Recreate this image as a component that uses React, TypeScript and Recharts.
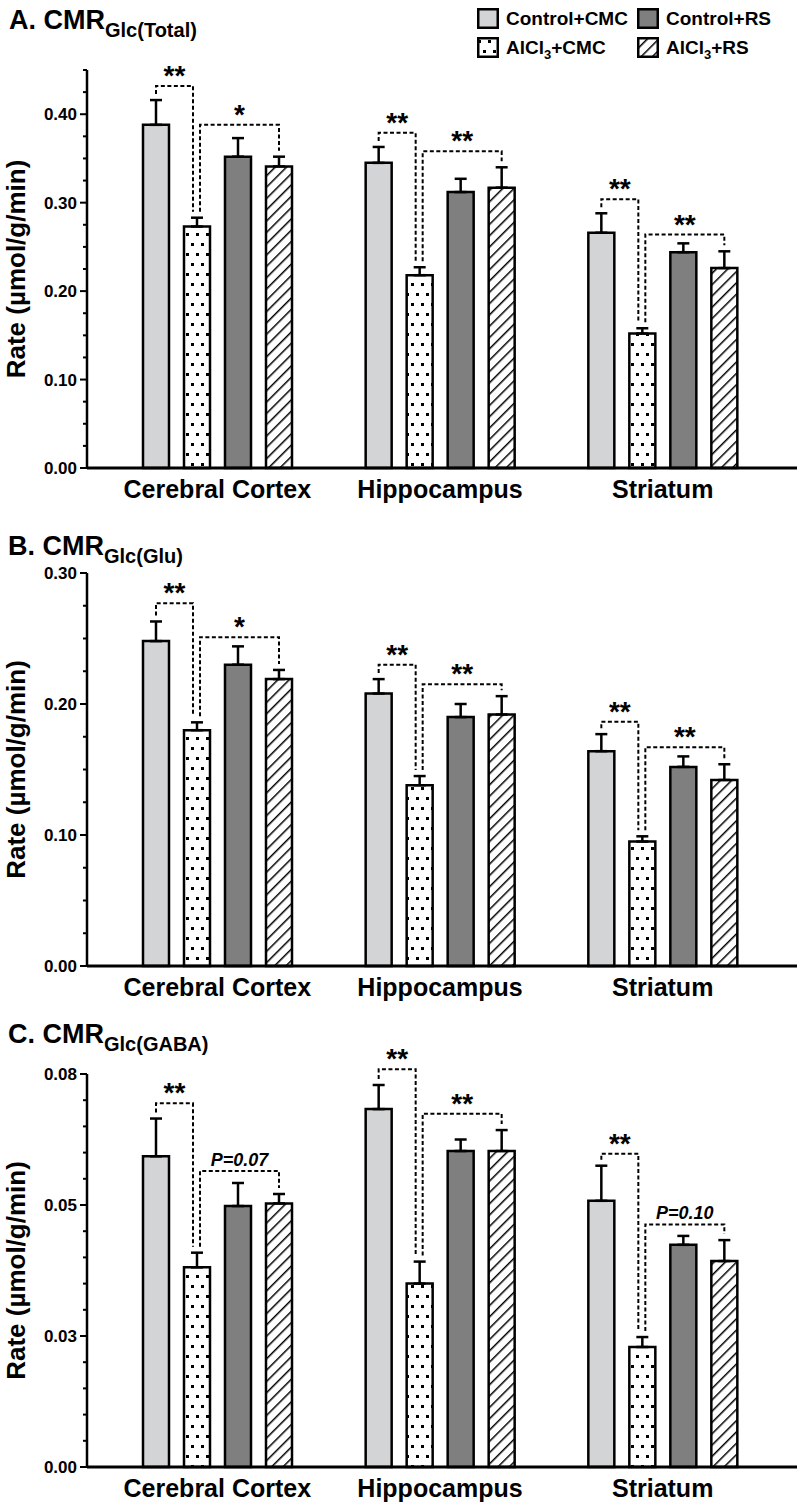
import React from 'react';
import { BarChart, Bar, XAxis, YAxis, ErrorBar, LabelList, Legend } from 'recharts';

const FONT = '"Liberation Sans", Arial, Helvetica, sans-serif';

const categories = ['Cerebral Cortex', 'Hippocampus', 'Striatum'];
const groupKeys = ['v0', 'v1', 'v2', 'v3'];
const groupNames = ['Control+CMC', 'AlCl3+CMC', 'Control+RS', 'AlCl3+RS'];

// A. CMRGlc(Total)
const totalCtrlCmc = [0.388, 0.345, 0.266];
const totalCtrlCmcSem = [0.028, 0.018, 0.022];
const totalAlCmc = [0.273, 0.218, 0.152];
const totalAlCmcSem = [0.010, 0.009, 0.006];
const totalCtrlRs = [0.352, 0.312, 0.244];
const totalCtrlRsSem = [0.021, 0.015, 0.010];
const totalAlRs = [0.341, 0.317, 0.226];
const totalAlRsSem = [0.011, 0.023, 0.019];
const totalSig1 = [0.432, 0.379, 0.304];
const totalSig1Text = ['**', '**', '**'];
const totalSig2 = [0.388, 0.358, 0.264];
const totalSig2Text = ['*', '**', '**'];
const totalTicks = [0, 0.025, 0.05, 0.075, 0.1, 0.125, 0.15, 0.175, 0.2, 0.225, 0.25, 0.275, 0.3, 0.325, 0.35, 0.375, 0.4, 0.425, 0.45];
const totalMajor = [0, 0.1, 0.2, 0.3, 0.4];
const totalMajorLabels = ['0.00', '0.10', '0.20', '0.30', '0.40'];

// B. CMRGlc(Glu)
const gluCtrlCmc = [0.248, 0.208, 0.164];
const gluCtrlCmcSem = [0.015, 0.011, 0.013];
const gluAlCmc = [0.180, 0.138, 0.095];
const gluAlCmcSem = [0.006, 0.007, 0.004];
const gluCtrlRs = [0.230, 0.190, 0.152];
const gluCtrlRsSem = [0.014, 0.010, 0.008];
const gluAlRs = [0.219, 0.192, 0.142];
const gluAlRsSem = [0.007, 0.014, 0.012];
const gluSig1 = [0.277, 0.230, 0.1865];
const gluSig1Text = ['**', '**', '**'];
const gluSig2 = [0.251, 0.215, 0.167];
const gluSig2Text = ['*', '**', '**'];
const gluTicks = [0, 0.025, 0.05, 0.075, 0.1, 0.125, 0.15, 0.175, 0.2, 0.225, 0.25, 0.275, 0.3];
const gluMajor = [0, 0.1, 0.2, 0.3];
const gluMajorLabels = ['0.00', '0.10', '0.20', '0.30'];

// C. CMRGlc(GABA)
const gabaCtrlCmc = [0.0593, 0.0683, 0.0508];
const gabaCtrlCmcSem = [0.0072, 0.0046, 0.0067];
const gabaAlCmc = [0.0381, 0.035, 0.0229];
const gabaAlCmcSem = [0.0028, 0.0042, 0.0019];
const gabaCtrlRs = [0.0498, 0.0603, 0.0424];
const gabaCtrlRsSem = [0.0044, 0.0022, 0.0017];
const gabaAlRs = [0.0503, 0.0603, 0.0393];
const gabaAlRsSem = [0.0018, 0.004, 0.004];
const gabaSig1 = [0.0694, 0.0759, 0.0598];
const gabaSig1Text = ['**', '**', '**'];
const gabaSig2 = [0.0565, 0.0674, 0.0463];
const gabaSig2Text = ['P=0.07', '**', 'P=0.10'];
const gabaTicks = [0, 0.005, 0.01, 0.015, 0.02, 0.025, 0.03, 0.035, 0.04, 0.045, 0.05, 0.055, 0.06, 0.065, 0.07, 0.075];
const gabaMajor = [0, 0.025, 0.05, 0.075];
const gabaMajorLabels = ['0.00', '0.03', '0.05', '0.08'];

const BAR_SIZE = 26;
const BAR_GAP = 15;

function makeRows(vals: number[][], sems: number[][], s1: number[], t1: string[], s2: number[], t2: string[]) {
  return categories.map((name, i) => {
    const row: any = { name, sem: sems.map(s => s[i]), s1: s1[i], t1: t1[i], s2: s2[i], t2: t2[i] };
    vals.forEach((v, g) => {
      row['v' + g] = v[i];
      row['e' + g] = [0, sems[g][i]];
    });
    return row;
  });
}

const totalRows = makeRows(
  [totalCtrlCmc, totalAlCmc, totalCtrlRs, totalAlRs],
  [totalCtrlCmcSem, totalAlCmcSem, totalCtrlRsSem, totalAlRsSem],
  totalSig1, totalSig1Text, totalSig2, totalSig2Text,
);
const gluRows = makeRows(
  [gluCtrlCmc, gluAlCmc, gluCtrlRs, gluAlRs],
  [gluCtrlCmcSem, gluAlCmcSem, gluCtrlRsSem, gluAlRsSem],
  gluSig1, gluSig1Text, gluSig2, gluSig2Text,
);
const gabaRows = makeRows(
  [gabaCtrlCmc, gabaAlCmc, gabaCtrlRs, gabaAlRs],
  [gabaCtrlCmcSem, gabaAlCmcSem, gabaCtrlRsSem, gabaAlRsSem],
  gabaSig1, gabaSig1Text, gabaSig2, gabaSig2Text,
);

const fills = (p: string) => ['#d3d4d6', `url(#${p}-dots)`, '#7f7f7f', `url(#${p}-hatch)`];

const Patterns = ({ p }: { p: string }) => (
  <defs>
    <pattern id={`${p}-dots`} width="10" height="20" patternUnits="userSpaceOnUse">
      <rect width="10" height="20" fill="#fff" />
      <rect x="1" y="3" width="3" height="3" fill="#000" />
      <rect x="6" y="13" width="3" height="3" fill="#000" />
    </pattern>
    <pattern id={`${p}-hatch`} width="8" height="8" patternUnits="userSpaceOnUse" patternTransform="rotate(45)">
      <rect width="8" height="8" fill="#fff" />
      <line x1="0" y1="0" x2="0" y2="8" stroke="#000" strokeWidth="3" />
    </pattern>
  </defs>
);

const makeBracket = (rows: any[], from: number, to: number, levelKey: string, textKey: string) => (props: any) => {
  const vb = props.viewBox && props.viewBox.width != null ? props.viewBox : props;
  const idx = props.index != null ? props.index : rows.findIndex(r => r[groupKeys[from]] === props.value);
  const row = rows[idx];
  if (!row) return null;
  const x = +vb.x;
  const y = +vb.y;
  const w = +vb.width;
  const h = Math.abs(+vb.height);
  const k = h / row[groupKeys[from]];
  const base = y + h;
  const py = (v: number) => base - v * k;
  const pitch = w + BAR_GAP;
  const xa = x + w / 2 + (from === 1 ? 3 : 0);
  const xb = x + w / 2 + (to - from) * pitch + (to === 1 ? -4 : 0);
  const yl = py(row[levelKey]);
  const ya = py(row[groupKeys[from]] + row.sem[from]) - 6;
  const yb = py(row[groupKeys[to]] + row.sem[to]) - 6;
  const text: string = row[textKey];
  const isP = text.startsWith('P');
  return (
    <g>
      <path d={`M${xa},${ya}V${yl}H${xb}V${yb}`} fill="none" stroke="#000" strokeWidth={2} strokeDasharray="4 2.5" />
      <text
        x={(xa + xb) / 2}
        y={isP ? yl - 5 : yl - 1}
        textAnchor="middle"
        fontSize={isP ? 18 : 28}
        fontWeight="bold"
        fontStyle={isP ? 'italic' : 'normal'}
        fill="#000"
      >
        {text}
      </text>
    </g>
  );
};

const makeYTick = (majors: number[], labels: string[]) => (p: any) => {
  const v = p.payload.value;
  const i = majors.findIndex(m => Math.abs(m - v) < 1e-9);
  const axisX = p.x + 10;
  return (
    <g>
      <line x1={axisX - (i >= 0 ? 7 : 4)} x2={axisX} y1={p.y} y2={p.y} stroke="#000" strokeWidth={2} />
      {i >= 0 && (
        <text x={p.x} y={p.y} dy="0.36em" textAnchor="end" fontSize={17} fontWeight="bold" fill="#000">
          {labels[i]}
        </text>
      )}
    </g>
  );
};

const YLabel = (props: any) => {
  const vb = props.viewBox;
  const cx = vb.x - 2.5;
  const cy = vb.y + vb.height / 2;
  return (
    <text transform={`translate(${cx},${cy}) rotate(-90)`} textAnchor="middle" fontSize={26} fontWeight="bold" fill="#000">
      Rate (µmol/g/min)
    </text>
  );
};

const renderName = (s: string) =>
  s.startsWith('AlCl3') ? (
    <>
      AlCl<span style={{ fontSize: 13, position: 'relative', top: 5 }}>3</span>
      {s.slice(5)}
    </>
  ) : (
    s
  );

const LegendBox = (props: any) => {
  const payload = [...(props.payload || [])].sort(
    (a: any, b: any) => groupKeys.indexOf(a.dataKey) - groupKeys.indexOf(b.dataKey),
  );
  const f = fills('pA');
  return (
    <div
      style={{
        display: 'grid',
        gridTemplateColumns: '160px 160px',
        gridTemplateRows: '29px 29px',
        gridAutoFlow: 'column',
        fontFamily: FONT,
        fontWeight: 'bold',
        fontSize: 19,
        color: '#000',
      }}
    >
      {payload.map((p: any) => {
        const g = groupKeys.indexOf(p.dataKey);
        return (
          <div key={p.dataKey} style={{ display: 'flex', alignItems: 'center', whiteSpace: 'nowrap' }}>
            <svg width={22} height={21} style={{ flex: 'none' }}>
              <rect x={1.25} y={1.25} width={19.5} height={18.5} fill={f[g]} stroke="#000" strokeWidth={2.5} />
            </svg>
            <span style={{ marginLeft: 7 }}>{renderName(groupNames[g])}</span>
          </div>
        );
      })}
    </div>
  );
};

function Panel(props: {
  top: number;
  height: number;
  marginTop: number;
  rows: any[];
  ticks: number[];
  majors: number[];
  majorLabels: string[];
  domainMax: number;
  prefix: string;
  legend?: boolean;
}) {
  const { top, height, marginTop, rows, ticks, majors, majorLabels, domainMax, prefix, legend } = props;
  const f = fills(prefix);
  return (
    <div style={{ position: 'absolute', left: 0, top }}>
      <BarChart
        width={800}
        height={height}
        data={rows}
        margin={{ top: marginTop, right: 3, bottom: 0, left: 27 }}
        barSize={BAR_SIZE}
        barGap={BAR_GAP}
      >
        <Patterns p={prefix} />
        <XAxis
          dataKey="name"
          height={36}
          padding={{ left: 19, right: 23 }}
          axisLine={{ stroke: '#000', strokeWidth: 3 }}
          tickLine={false}
          tickSize={0}
          tickMargin={12}
          tick={{ fontSize: 25, fontWeight: 'bold', fill: '#000' }}
        />
        <YAxis
          width={60}
          domain={[0, domainMax]}
          ticks={ticks}
          interval={0}
          axisLine={{ stroke: '#000', strokeWidth: 2.5 }}
          tickLine={false}
          tickSize={7}
          tickMargin={3}
          tick={makeYTick(majors, majorLabels)}
          label={YLabel}
        />
        {legend && (
          <Legend
            layout="horizontal"
            verticalAlign="middle"
            align="center"
            content={LegendBox}
            wrapperStyle={{ top: 4, left: 477, width: 323 }}
          />
        )}
        {groupKeys.map((key, g) => (
          <Bar
            key={key}
            dataKey={key}
            name={groupNames[g]}
            fill={f[g]}
            stroke="#000"
            strokeWidth={2.5}
            isAnimationActive={false}
          >
            <ErrorBar dataKey={'e' + g} width={6} stroke="#000" strokeWidth={2.5} direction="y" />
            {g === 0 && <LabelList dataKey={key} content={makeBracket(rows, 0, 1, 's1', 't1')} />}
            {g === 1 && <LabelList dataKey={key} content={makeBracket(rows, 1, 3, 's2', 't2')} />}
          </Bar>
        ))}
      </BarChart>
    </div>
  );
}

const titleStyle: React.CSSProperties = {
  position: 'absolute',
  fontSize: 27,
  lineHeight: '27px',
  fontWeight: 'bold',
  color: '#000',
  whiteSpace: 'nowrap',
};
const subStyle: React.CSSProperties = { fontSize: 20, position: 'relative', top: 8 };

export default function App() {
  return (
    <div style={{ position: 'absolute', left: 0, top: 0, width: 800, height: 1504, background: '#fff', fontFamily: FONT }}>
      <Panel top={0} height={504} marginTop={70} rows={totalRows} ticks={totalTicks} majors={totalMajor}
        majorLabels={totalMajorLabels} domainMax={0.45} prefix="pA" legend />
      <Panel top={504} height={498} marginTop={69} rows={gluRows} ticks={gluTicks} majors={gluMajor}
        majorLabels={gluMajorLabels} domainMax={0.3} prefix="pB" />
      <Panel top={1002} height={501} marginTop={72} rows={gabaRows} ticks={gabaTicks} majors={gabaMajor}
        majorLabels={gabaMajorLabels} domainMax={0.075} prefix="pC" />
      <div style={{ ...titleStyle, left: 9, top: 7 }}>
        A. CMR<span style={subStyle}>Glc(Total)</span>
      </div>
      <div style={{ ...titleStyle, left: 8, top: 533 }}>
        B. CMR<span style={subStyle}>Glc(Glu)</span>
      </div>
      <div style={{ ...titleStyle, left: 8, top: 1021 }}>
        C. CMR<span style={subStyle}>Glc(GABA)</span>
      </div>
    </div>
  );
}
